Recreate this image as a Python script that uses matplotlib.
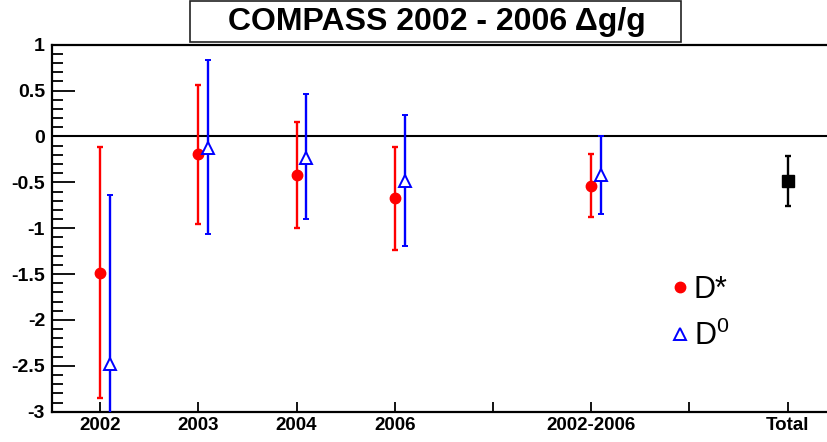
import matplotlib
matplotlib.use("Agg")
import matplotlib.pyplot as plt
from matplotlib.patches import Rectangle
from matplotlib.lines import Line2D
from matplotlib.ticker import MultipleLocator

# categories along x
categories = ["2002", "2003", "2004", "2006", "", "2002-2006", "", "Total"]

# D* (red circles)
dstar_pos = [0, 1, 2, 3, 5]
dstar_val = [-1.485, -0.19, -0.42, -0.675, -0.54]
dstar_lo = [1.365, 0.76, 0.58, 0.565, 0.34]
dstar_hi = [1.375, 0.75, 0.58, 0.555, 0.35]

# D0 (blue open triangles)
d0_pos = [0, 1, 2, 3, 5]
d0_val = [-2.48, -0.13, -0.23, -0.49, -0.42]
d0_lo = [1.84, 0.93, 0.67, 0.70, 0.42]
d0_hi = [1.84, 0.96, 0.69, 0.72, 0.43]

# combined result
total_pos = [7]
total_val = [-0.49]
total_lo = [0.265]
total_hi = [0.28]

d0_shift = 0.1

plt.rcParams["font.family"] = ["Liberation Sans", "DejaVu Sans"]
plt.rcParams["mathtext.fontset"] = "custom"
plt.rcParams["mathtext.rm"] = "Liberation Sans"

fig = plt.figure(figsize=(8.28, 4.42), dpi=100)
ax = fig.add_axes([52 / 828, 30.3 / 442, 785.6 / 828, 367 / 442])

ax.axhline(0, color="black", lw=1.5, zorder=1)

ax.errorbar(dstar_pos, dstar_val, yerr=[dstar_lo, dstar_hi], fmt="o", color="red",
            ms=7.5, elinewidth=1.7, capsize=2.2, capthick=1.7, zorder=3)
ax.errorbar([p + d0_shift for p in d0_pos], d0_val, yerr=[d0_lo, d0_hi], fmt="^",
            color="blue", mfc="white", mec="blue", mew=1.4, ms=8.5, elinewidth=1.7,
            capsize=2.2, capthick=1.7, zorder=3)
ax.errorbar(total_pos, total_val, yerr=[total_lo, total_hi], fmt="s", color="black",
            ms=8, elinewidth=1.7, capsize=2.2, capthick=1.7, zorder=3)

ax.set_xlim(-0.49, 7.51)
ax.set_ylim(-3, 1)

ax.set_xticks(range(len(categories)))
ax.set_xticklabels(categories, fontsize=13.5, fontweight="bold")
ax.tick_params(axis="x", direction="in", length=7.5, width=1.3, pad=4)

ax.yaxis.set_minor_locator(MultipleLocator(0.1))
ax.set_yticks([1, 0.5, 0, -0.5, -1, -1.5, -2, -2.5, -3])
ax.set_yticklabels(["1", "0.5", "0", "-0.5", "-1", "-1.5", "-2", "-2.5", "-3"],
                   fontsize=14, fontweight="bold")
ax.tick_params(axis="y", which="major", direction="in", length=16.5, width=1.3, pad=5)
ax.tick_params(axis="y", which="minor", direction="in", length=8, width=1.3)

for s in ax.spines.values():
    s.set_linewidth(1.6)

handles = [
    Line2D([], [], ls="none", marker="o", color="red", ms=7.5),
    Line2D([], [], ls="none", marker="^", color="blue", mfc="white", mew=1.4, ms=8),
]
ax.legend(handles, ["D*", "D$^{0}$"], loc="upper left",
          bbox_to_anchor=(671 / 828, 1 - 275 / 442), bbox_transform=fig.transFigure,
          frameon=False, fontsize=22, borderpad=0, borderaxespad=0,
          handlelength=0.6, handletextpad=0.15, labelspacing=0.5)

fig.add_artist(Rectangle((190 / 828, 1 - 42 / 442), 491 / 828, 41 / 442,
                         transform=fig.transFigure, fc="white", ec="#222222", lw=1.2))
fig.text(437 / 828, 1 - 22 / 442, "COMPASS 2002 - 2006 Δg/g", ha="center", va="center",
         fontsize=23, fontweight="bold")

fig.savefig("out.png", dpi=100)
